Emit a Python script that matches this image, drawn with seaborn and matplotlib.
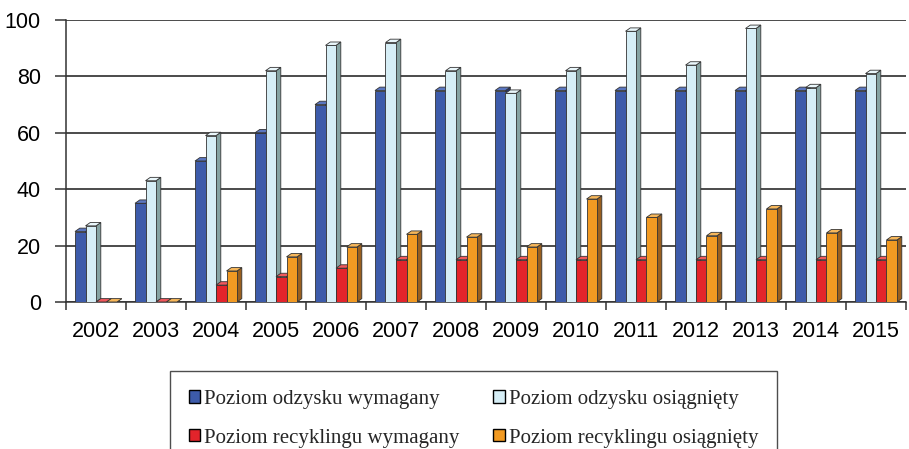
import numpy as np
import pandas as pd
import matplotlib
matplotlib.use("Agg")
import matplotlib.pyplot as plt
from matplotlib.patches import Polygon, Patch
import seaborn as sns

years = ["2002", "2003", "2004", "2005", "2006", "2007", "2008",
         "2009", "2010", "2011", "2012", "2013", "2014", "2015"]
odzysk_wymagany = [25, 35, 50, 60, 70, 75, 75, 75, 75, 75, 75, 75, 75, 75]
odzysk_osiagniety = [27, 43, 59, 82, 91, 92, 82, 74, 82, 96, 84, 97, 76, 81]
recykling_wymagany = [0, 0, 6, 9, 12, 15, 15, 15, 15, 15, 15, 15, 15, 15]
recykling_osiagniety = [0, 0, 11, 16, 19.5, 24, 23, 19.5, 36.5, 30, 23.5, 33, 24.5, 22]

series_names = ["Poziom odzysku wymagany", "Poziom odzysku osiągnięty",
                "Poziom recyklingu wymagany", "Poziom recyklingu osiągnięty"]
series_values = [odzysk_wymagany, odzysk_osiagniety,
                 recykling_wymagany, recykling_osiagniety]
colors = ["#3D5BAA", "#D6EEF6", "#E3242B", "#F29A22"]
side_colors = ["#24356E", "#86A3A2", "#8E1518", "#9A5F1E"]
top_colors = ["#5A76C0", "#EAF7FB", "#F0585C", "#F7B75A"]

df = pd.DataFrame({
    "rok": np.tile(years, len(series_names)),
    "seria": np.repeat(series_names, len(years)),
    "wartosc": np.concatenate(series_values),
})

sns.set_theme(style="white")
plt.rcParams["font.family"] = ["Liberation Sans", "DejaVu Sans"]

fig = plt.figure(figsize=(9.09, 4.49), dpi=100)
ax = fig.add_axes([66 / 909, 1 - 302 / 449, 840 / 909, 282 / 449])

sns.barplot(data=df, x="rok", y="wartosc", hue="seria", hue_order=series_names,
            palette=colors, width=0.7, gap=0, dodge=True, legend=False,
            edgecolor="#333333", linewidth=0.6, saturation=1, ax=ax)

# pseudo-3D: side and top faces derived from each drawn bar
dx, dy = 0.08, 1.2
bars = list(ax.patches)
n = len(years)
for i, bar in enumerate(bars):
    k = i // n
    x0, y0 = bar.get_x(), bar.get_y()
    w, h = bar.get_width(), bar.get_height()
    z = 3 + k * 0.1
    bar.set_zorder(z)
    side = Polygon([(x0 + w, y0), (x0 + w + dx, y0 + dy),
                    (x0 + w + dx, y0 + h + dy), (x0 + w, y0 + h)],
                   closed=True, facecolor=side_colors[k], edgecolor="#333333",
                   linewidth=0.6, zorder=z - 0.05)
    top = Polygon([(x0, y0 + h), (x0 + dx, y0 + h + dy),
                   (x0 + w + dx, y0 + h + dy), (x0 + w, y0 + h)],
                  closed=True, facecolor=top_colors[k], edgecolor="#333333",
                  linewidth=0.6, zorder=z - 0.05)
    ax.add_patch(side)
    ax.add_patch(top)

ax.set_xlim(-0.5, len(years) - 0.5)
ax.set_ylim(0, 100)
ax.set_yticks([0, 20, 40, 60, 80, 100])
ax.set_xlabel("")
ax.set_ylabel("")

ax.yaxis.grid(True, color="#1a1a1a", linewidth=1.1)
ax.set_axisbelow(True)
for s in ["top", "right"]:
    ax.spines[s].set_visible(False)
for s in ["left", "bottom"]:
    ax.spines[s].set_color("#333333")
    ax.spines[s].set_linewidth(1.1)

ax.set_xticks(np.arange(len(years)))
ax.set_xticklabels(years)
ax.set_xticks(np.arange(len(years) + 1) - 0.5, minor=True)
ax.tick_params(axis="x", which="major", length=0, pad=14, labelsize=15.5, colors="black")
ax.tick_params(axis="x", which="minor", length=6, width=1.1, color="#333333", direction="out", bottom=True)
ax.tick_params(axis="y", length=8, width=1.1, color="#333333", direction="out", left=True,
               pad=10, labelsize=15.5, labelcolor="black")

# legend filled row by row: two entries per row
handles = [Patch(facecolor=c, edgecolor="black", linewidth=1.0) for c in colors]
order = [0, 2, 1, 3]
leg = fig.legend([handles[i] for i in order], [series_names[i] for i in order],
                 ncol=2, loc="upper left",
                 bbox_to_anchor=(170 / 909, 1 - 371 / 449),
                 prop={"family": "Liberation Serif", "size": 15},
                 frameon=True, fancybox=False, edgecolor="#222222",
                 handlelength=0.55, handleheight=0.55, handletextpad=0.2,
                 columnspacing=1.6, labelspacing=0.95, borderpad=0.9,
                 borderaxespad=0)
leg.get_frame().set_linewidth(1.0)

fig.savefig("out.png", dpi=100)
